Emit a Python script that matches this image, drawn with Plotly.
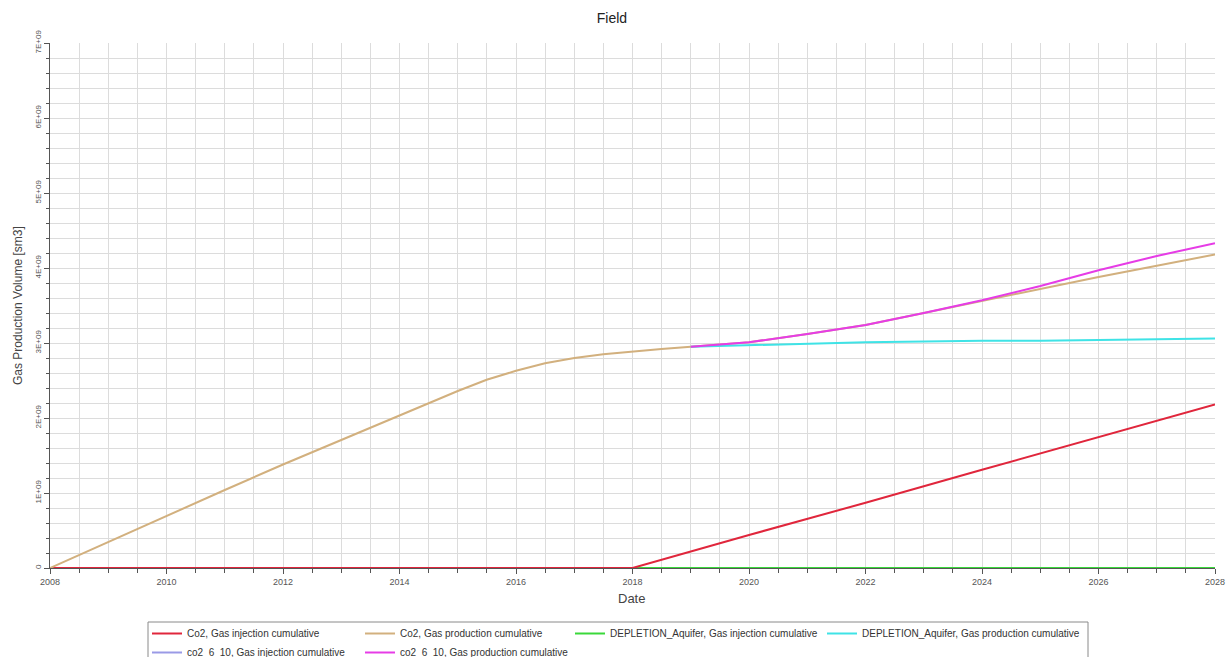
import plotly.graph_objects as go

# ---- data (values in sm3) ----
hist_dates = ["2008-01-01", "2009-01-01", "2010-01-01", "2011-01-01", "2012-01-01",
              "2013-01-01", "2014-01-01", "2015-01-01", "2015-07-01", "2016-01-01",
              "2016-07-01", "2017-01-01", "2017-07-01", "2018-01-01", "2018-07-01",
              "2019-01-01"]
hist_prod = [0.0, 0.35e9, 0.70e9, 1.04e9, 1.38e9, 1.71e9, 2.04e9, 2.36e9, 2.51e9, 2.63e9,
             2.73e9, 2.80e9, 2.85e9, 2.89e9, 2.92e9, 2.95e9]

# restart cases begin at the 2019 restart point
fut_dates = ["2019-01-01", "2020-01-01", "2021-01-01", "2022-01-01", "2023-01-01",
             "2024-01-01", "2025-01-01", "2026-01-01", "2027-01-01", "2028-01-01"]
co2_prod_fut = [2.95e9, 3.01e9, 3.12e9, 3.24e9, 3.40e9, 3.56e9, 3.72e9, 3.88e9, 4.03e9, 4.18e9]
co2_6_10_prod = [2.95e9, 3.01e9, 3.12e9, 3.24e9, 3.40e9, 3.57e9, 3.76e9, 3.97e9, 4.16e9, 4.33e9]
depl_prod = [2.95e9, 2.97e9, 2.99e9, 3.01e9, 3.02e9, 3.03e9, 3.03e9, 3.04e9, 3.05e9, 3.06e9]

inj_dates = ["2008-01-01", "2018-01-01", "2020-01-01", "2022-01-01", "2024-01-01",
             "2026-01-01", "2028-01-01"]
co2_inj = [0.0, 0.0, 0.44e9, 0.87e9, 1.31e9, 1.75e9, 2.18e9]

zero_dates = ["2008-01-01", "2028-01-01"]
depl_inj = [0.0, 0.0]
co2_6_10_inj = [0.0, 0.0]

ytick_vals = [0, 1e9, 2e9, 3e9, 4e9, 5e9, 6e9, 7e9]
ytick_text = ["0", "1E+09", "2E+09", "3E+09", "4E+09", "5E+09", "6E+09", "7E+09"]

names = {
    "co2_inj": "Co2, Gas injection cumulative",
    "co2_prod": "Co2, Gas production cumulative",
    "depl_inj": "DEPLETION_Aquifer, Gas injection cumulative",
    "depl_prod": "DEPLETION_Aquifer, Gas production cumulative",
    "c610_inj": "co2_6_10, Gas injection cumulative",
    "c610_prod": "co2_6_10, Gas production cumulative",
}
colors = {
    "co2_inj": "#e0263c",
    "co2_prod": "#d2b07e",
    "depl_inj": "#3ad83a",
    "depl_prod": "#3fe3e6",
    "c610_inj": "#9a9ae6",
    "c610_prod": "#e63ce6",
}

W, H = 1226, 657
L, R, T, B = 50, 11, 43, 89
PW, PH = W - L - R, H - T - B

def sx(px):  # screen x -> paper x
    return (px - L) / PW

def sy(py):  # screen y -> paper y
    return (H - B - py) / PH

fig = go.Figure()

def add(key, x, y, legend, rank):
    fig.add_trace(go.Scatter(
        x=x, y=y, mode="lines", name=names[key],
        line=dict(color=colors[key], width=2),
        legend=legend, legendrank=rank,
    ))

# drawing order (bottom first)
add("c610_inj", zero_dates, co2_6_10_inj, "legend", 2)
add("depl_inj", zero_dates, depl_inj, "legend3", 1)
add("co2_inj", inj_dates, co2_inj, "legend", 1)
add("co2_prod", hist_dates + fut_dates[1:], hist_prod + co2_prod_fut[1:], "legend2", 1)
add("depl_prod", fut_dates, depl_prod, "legend4", 1)
add("c610_prod", fut_dates, co2_6_10_prod, "legend2", 2)

grid = "#dcdcdc"
axis_c = "#555555"

def leg(text_x):
    return dict(
        x=(text_x - 40) / W, y=1 - 619 / H,
        xref="container", yref="container",
        xanchor="left", yanchor="top", orientation="v",
        bgcolor="rgba(0,0,0,0)", borderwidth=0,
        font=dict(family="Liberation Sans, Arial, sans-serif", size=10, color="#333333"),
        tracegroupgap=0, itemwidth=30,
    )

fig.update_layout(
    width=W, height=H,
    margin=dict(l=L, r=R, t=T, b=B, autoexpand=False),
    paper_bgcolor="white", plot_bgcolor="white",
    font=dict(family="Liberation Sans, Arial, sans-serif", color="#333333"),
    title=dict(text="Field", x=612 / W, xref="container", xanchor="center",
               y=1 - 18 / H, yref="container", yanchor="middle",
               font=dict(size=14, color="#222222")),
    showlegend=True,
    legend=leg(187),
    legend2=leg(400),
    legend3=leg(610),
    legend4=leg(862),
    xaxis=dict(
        type="date",
        range=["2008-01-01", "2028-01-01"],
        tick0="2008-01-01", dtick="M24", tickformat="%Y",
        ticks="outside", ticklen=5, tickcolor=axis_c, tickwidth=1,
        tickfont=dict(size=9, color="#555555"), ticklabeloverflow="allow",
        showgrid=True, gridcolor=grid, gridwidth=1,
        minor=dict(dtick="M6", tick0="2008-01-01", showgrid=True, gridcolor=grid,
                   ticks="outside", ticklen=4, tickcolor=axis_c),
        showline=True, linecolor=axis_c, linewidth=1,
        zeroline=False, layer="below traces",
    ),
    yaxis=dict(
        range=[0, 7e9],
        tickvals=ytick_vals, ticktext=ytick_text, tickangle=-90,
        ticks="outside", ticklen=5, tickcolor=axis_c, tickwidth=1,
        tickfont=dict(size=8, color="#555555"),
        showgrid=True, gridcolor=grid, gridwidth=1,
        minor=dict(dtick=0.2e9, tick0=0, showgrid=True, gridcolor=grid,
                   ticks="outside", ticklen=3, tickcolor=axis_c),
        showline=True, linecolor=axis_c, linewidth=1,
        zeroline=False, layer="below traces",
    ),
    annotations=[
        dict(text="Date", xref="paper", yref="paper", x=sx(631), y=sy(598),
             xanchor="center", yanchor="middle", showarrow=False,
             font=dict(size=13, color="#444444")),
        dict(text="Gas Production Volume [sm3]", xref="paper", yref="paper",
             x=sx(18), y=sy(306), textangle=-90,
             xanchor="center", yanchor="middle", showarrow=False,
             font=dict(size=12, color="#444444")),
    ],
    shapes=[dict(
        type="rect", xref="paper", yref="paper", layer="above",
        x0=sx(148), x1=sx(1088), y0=sy(680), y1=sy(622),
        line=dict(color="#8a8a8a", width=1), fillcolor="rgba(0,0,0,0)",
    )],
)

fig.write_html(
    "out.html",
    config={"displayModeBar": False},
    post_script="document.body.style.margin='0';document.body.style.overflow='hidden';",
)
